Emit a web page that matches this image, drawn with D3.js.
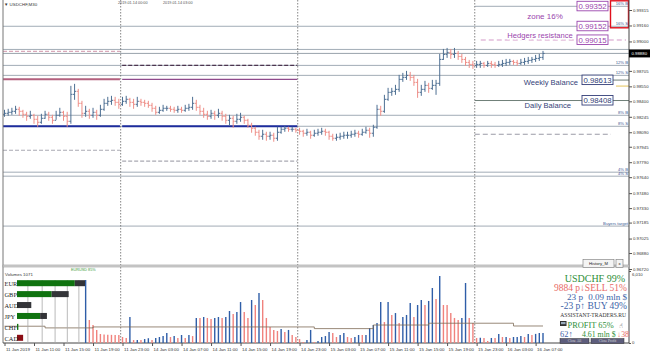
<!DOCTYPE html>
<html>
<head>
<meta charset="utf-8">
<script src="https://cdn.jsdelivr.net/npm/d3@7"></script>
<style>
  body { margin: 0; background: #fff; }
  svg { display: block; }
</style>
</head>
<body>
<div class="container"></div>
<script>
// USDCHF M30, 11 Jan 2019 07:00 .. 16 Jan 2019 08:00, one value per bar
const firstOpen = 0.9827;
const closes = [
  0.9828,0.9829,0.9830,0.9832,0.9830,0.9827,0.9825,0.9826,0.9822,0.9819,
  0.9823,0.9827,0.9824,0.9821,0.9826,0.9829,0.9825,0.9820,0.9847,0.9850,
  0.9838,0.9828,0.9830,0.9826,0.9829,0.9826,0.9832,0.9838,0.9840,0.9841,
  0.9839,0.9837,0.9840,0.9842,0.9839,0.9837,0.9840,0.9839,0.9838,0.9836,
  0.9833,0.9829,0.9831,0.9833,0.9833,0.9832,0.9831,0.9832,0.9831,0.9833,
  0.9834,0.9838,0.9834,0.9830,0.9827,0.9825,0.9828,0.9826,0.9828,0.9825,
  0.9821,0.9823,0.9820,0.9822,0.9824,0.9821,0.9816,0.9813,0.9809,0.9805,
  0.9807,0.9805,0.9806,0.9803,0.9809,0.9812,0.9813,0.9812,0.9812,0.9811,
  0.9810,0.9808,0.9809,0.9806,0.9808,0.9809,0.9810,0.9809,0.9805,0.9803,
  0.9804,0.9805,0.9806,0.9806,0.9807,0.9808,0.9807,0.9809,0.9811,0.9808,
  0.9814,0.9832,0.9830,0.9842,0.9849,0.9850,0.9852,0.9862,0.9864,0.9866,
  0.9864,0.9859,0.9849,0.9852,0.9856,0.9853,0.9856,0.9858,0.9882,0.9887,
  0.9889,0.9887,0.9888,0.9885,0.9882,0.9879,0.9877,0.9876,0.9877,0.9878,
  0.9876,0.9878,0.9877,0.9876,0.9877,0.9878,0.9879,0.9880,0.9879,0.9878,
  0.9879,0.9880,0.9881,0.9882,0.9883,0.9884,0.9888
];
const highs = [
  0.9831,0.9832,0.9833,0.9835,0.9834,0.9831,0.9829,0.9830,0.9827,0.9825,
  0.9827,0.9830,0.9829,0.9826,0.9830,0.9833,0.9830,0.9829,0.9855,0.9857,
  0.9852,0.9840,0.9835,0.9832,0.9833,0.9831,0.9836,0.9842,0.9844,0.9845,
  0.9844,0.9842,0.9844,0.9845,0.9843,0.9842,0.9844,0.9842,0.9841,0.9840,
  0.9838,0.9835,0.9834,0.9836,0.9835,0.9835,0.9834,0.9835,0.9834,0.9836,
  0.9837,0.9844,0.9841,0.9836,0.9833,0.9830,0.9831,0.9830,0.9832,0.9830,
  0.9827,0.9826,0.9825,0.9827,0.9828,0.9825,0.9822,0.9818,0.9814,0.9811,
  0.9811,0.9809,0.9809,0.9808,0.9814,0.9814,0.9815,0.9814,0.9814,0.9813,
  0.9813,0.9811,0.9812,0.9810,0.9811,0.9812,0.9813,0.9812,0.9810,0.9807,
  0.9807,0.9808,0.9809,0.9809,0.9810,0.9811,0.9810,0.9812,0.9814,0.9813,
  0.9816,0.9836,0.9835,0.9846,0.9853,0.9853,0.9856,0.9866,0.9868,0.9870,
  0.9869,0.9866,0.9862,0.9856,0.9860,0.9858,0.9861,0.9861,0.9887,0.9892,
  0.9893,0.9892,0.9893,0.9890,0.9887,0.9884,0.9881,0.9880,0.9880,0.9880,
  0.9879,0.9880,0.9880,0.9879,0.9880,0.9881,0.9882,0.9882,0.9881,0.9881,
  0.9882,0.9883,0.9884,0.9884,0.9886,0.9887,0.9890
];
const lows = [
  0.9825,0.9826,0.9827,0.9828,0.9826,0.9824,0.9821,0.9823,0.9818,0.9815,
  0.9818,0.9823,0.9821,0.9818,0.9822,0.9825,0.9821,0.9815,0.9818,0.9842,
  0.9835,0.9824,0.9825,0.9823,0.9824,0.9822,0.9825,0.9831,0.9836,0.9837,
  0.9836,0.9833,0.9836,0.9838,0.9835,0.9833,0.9835,0.9836,0.9835,0.9834,
  0.9830,0.9827,0.9828,0.9830,0.9831,0.9830,0.9829,0.9829,0.9829,0.9830,
  0.9831,0.9832,0.9831,0.9827,0.9824,0.9822,0.9823,0.9822,0.9824,0.9821,
  0.9818,0.9816,0.9814,0.9818,0.9820,0.9818,0.9814,0.9809,0.9806,0.9802,
  0.9802,0.9801,0.9802,0.9800,0.9801,0.9808,0.9810,0.9810,0.9810,0.9809,
  0.9807,0.9805,0.9806,0.9803,0.9805,0.9806,0.9807,0.9806,0.9802,0.9801,
  0.9801,0.9802,0.9803,0.9803,0.9804,0.9805,0.9804,0.9806,0.9808,0.9804,
  0.9805,0.9813,0.9826,0.9829,0.9841,0.9846,0.9847,0.9850,0.9860,0.9862,
  0.9861,0.9856,0.9844,0.9846,0.9850,0.9849,0.9852,0.9847,0.9856,0.9882,
  0.9884,0.9883,0.9884,0.9882,0.9879,0.9876,0.9874,0.9873,0.9874,0.9874,
  0.9874,0.9875,0.9874,0.9874,0.9875,0.9875,0.9876,0.9877,0.9877,0.9876,
  0.9877,0.9877,0.9878,0.9879,0.9880,0.9881,0.9882
];
// tick volumes, first visible bar is bar 22
const volStart = 22;
const volumes = [
  5260,1920,1500,1090,750,700,690,680,670,660,
  500,420,2170,250,260,240,330,400,250,420,
  500,580,830,500,580,420,670,420,670,580,
  2090,2080,2170,2090,2000,2090,2170,2090,2170,2670,
  2420,2590,3420,2590,2090,3590,3170,4180,3590,2090,
  1340,1090,1000,1170,920,1090,670,500,330,90,
  250,1090,80,170,500,580,920,835,500,670,
  835,500,420,500,670,660,670,1250,1500,1670,
  3420,1750,3420,2340,2500,1670,2170,2340,3340,2170,
  3170,3590,3170,3510,4590,3670,5590,3170,3170,2500,
  2090,1920,2090,5010,2090,1670,420,430,410,170,
  420,410,750,500,510,420,500,510,580,500,
  750,670,760,835,840
];
const volMA = [[0,1400],[11,1260],[24,1340],[84,1200],[100,1500],[115,1650],[138,1420],[146,1420]];

const priceTicks = [0.99315,0.99160,0.99000,0.98705,0.98550,0.98400,0.98245,0.98090,0.97945,
                    0.97790,0.97640,0.97480,0.97330,0.97185,0.97025,0.96880,0.96720];
const timeLabels = ["11 Jan 2019","11 Jan 11:00","11 Jan 15:00","11 Jan 19:00","11 Jan 23:00",
  "14 Jan 03:00","14 Jan 07:00","14 Jan 11:00","14 Jan 15:00","14 Jan 19:00","14 Jan 23:00",
  "15 Jan 03:00","15 Jan 07:00","15 Jan 11:00","15 Jan 15:00","15 Jan 19:00","15 Jan 23:00",
  "16 Jan 03:00","16 Jan 07:00"];
const daySeparators = [31.5, 79.5, 127.5];

// levels across the whole chart
const levelPrices = [0.99152, 0.9892, 0.9876, 0.9866, 0.9826, 0.9815, 0.9769, 0.9765, 0.9715];
const levelTags = ["16% S", "", "12% B", "12% S", "8% B", "8% S", "4% B", "4% S", "Buyers target"];
// daily levels of 11 Jan (0) and 14 Jan (1)
const dayRanges = [[-0.4, 31.3], [31.9, 79.4]];
const dayLevels = [
  [0, 0.9890, "res0"], [0, 0.9862, "piv0"], [0, 0.9815, "sup"], [0, 0.9791, "low"],
  [1, 0.9876, "res1"], [1, 0.9862, "piv1"], [1, 0.9815, "sup"], [1, 0.9780, "low"]
];
// current day annotations
const zoneTop = 0.99352, zoneBottom = 0.99152, hedgers = 0.99015;
const weeklyBalance = 0.98613, dailyBalance = 0.98408, dayDashed = 0.9807;

const currencies = ["EUR","GBP","AUD","JPY","CHF","CAD"];
const strengthUp = [85, 51, 0, 34, 2, 0];
const strengthDown = [15, 25, 21, 10, 0, 0];
const strengthNeg = [0, 0, 0, 0, 0, 9];
const strengthGrid = [16, 37, 56, 74, 91];

const W = 650, H = 356;
const plotL = 3, plotR = 629, mainB = 265, volT = 267, volB = 343;
const upColor = "#4d6f93", downColor = "#ee8f88";

const svg = d3.select(".container")
              .append("svg")
              .attr("width", W)
              .attr("height", H)
              .style("font-family", "'Liberation Sans', Arial, sans-serif");
svg.append("rect").attr("width", W).attr("height", H).attr("fill", "#fff");

const x = d3.scaleLinear().domain([0, 146]).range([4.5, 543]);
const y = d3.scaleLinear().domain([0.96720, 0.99315]).range([269, 10]);
const yv = d3.scaleLinear().domain([0, 6010]).range([volB, 271]);

svg.append("clipPath").attr("id", "mainClip")
   .append("rect").attr("x", plotL).attr("y", 0).attr("width", plotR - plotL).attr("height", mainB);
const main = svg.append("g").attr("clip-path", "url(#mainClip)");

function halo(text) {
    text.select(function() { return this.parentNode.insertBefore(this.cloneNode(true), this); })
        .attr("fill", "none")
        .attr("stroke", "white")
        .attr("stroke-width", 3)
        .attr("stroke-linejoin", "round");
}

// full width levels
levelPrices.forEach((p, k) => {
    main.append("line")
        .attr("x1", plotL).attr("x2", plotR)
        .attr("y1", y(p)).attr("y2", y(p))
        .attr("stroke", "#97a3ae").attr("stroke-width", 0.9);
    if (levelTags[k]) {
        main.append("text")
            .attr("x", plotR - 1).attr("y", y(p) - 1.2)
            .attr("text-anchor", "end").attr("font-size", 4.2)
            .attr("fill", "#3c5a96").text(levelTags[k]);
    }
});

// daily levels for finished days
const dayStyle = {
    res0: {c: "#d9a9b9", w: 1.2, dash: "4,2"},
    res1: {c: "#4d3650", w: 1.2, dash: "4,2"},
    piv0: {c: "#b3607e", w: 2, dash: null},
    piv1: {c: "#8f4a8c", w: 1.1, dash: null},
    sup:  {c: "#1d2c9c", w: 2, dash: null},
    low:  {c: "#a9a9b2", w: 1.2, dash: "4,2"}
};
main.selectAll(".daylevel")
    .data(dayLevels)
    .join("line")
    .attr("class", "daylevel")
    .attr("x1", d => x(dayRanges[d[0]][0]))
    .attr("x2", d => x(dayRanges[d[0]][1]))
    .attr("y1", d => y(d[1])).attr("y2", d => y(d[1]))
    .attr("stroke", d => dayStyle[d[2]].c)
    .attr("stroke-width", d => dayStyle[d[2]].w)
    .attr("stroke-dasharray", d => dayStyle[d[2]].dash);

// current day lines
const curX = x(daySeparators[2]);
main.append("line").attr("x1", curX).attr("x2", plotR).attr("y1", y(zoneTop)).attr("y2", y(zoneTop))
    .attr("stroke", "#97a3ae").attr("stroke-width", 0.9);
main.append("text").attr("x", plotR - 1).attr("y", y(zoneTop) - 1.2).attr("text-anchor", "end")
    .attr("font-size", 4.2).attr("fill", "#3c5a96").text("16% B");
main.append("line").attr("x1", curX + 6).attr("x2", plotR - 3).attr("y1", y(hedgers)).attr("y2", y(hedgers))
    .attr("stroke", "#d49ac8").attr("stroke-width", 1.1).attr("stroke-dasharray", "5,3");
main.append("line").attr("x1", curX).attr("x2", plotR).attr("y1", y(dailyBalance)).attr("y2", y(dailyBalance))
    .attr("stroke", "#6f7f78").attr("stroke-width", 1);
main.append("line").attr("x1", curX).attr("x2", plotR - 18).attr("y1", y(dayDashed)).attr("y2", y(dayDashed))
    .attr("stroke", "#9a9aa6").attr("stroke-width", 1.1).attr("stroke-dasharray", "5,3");
main.append("line").attr("x1", 612).attr("x2", plotR).attr("y1", y(weeklyBalance)).attr("y2", y(weeklyBalance))
    .attr("stroke", "#6f7f78").attr("stroke-width", 1);
main.append("line").attr("x1", 616).attr("x2", plotR).attr("y1", y(weeklyBalance) + 6).attr("y2", y(weeklyBalance) + 6)
    .attr("stroke", "#e3c35a").attr("stroke-width", 1);

// day separators
svg.selectAll(".sep")
   .data(daySeparators)
   .join("line")
   .attr("class", "sep")
   .attr("x1", d => x(d)).attr("x2", d => x(d))
   .attr("y1", 0).attr("y2", volB)
   .attr("stroke", "#666").attr("stroke-width", 0.8)
   .attr("stroke-dasharray", "1.5,1.5");

// bid line
const lastClose = closes[closes.length - 1];
main.append("line").attr("x1", plotL).attr("x2", plotR).attr("y1", y(lastClose)).attr("y2", y(lastClose))
    .attr("stroke", "#8d98a3").attr("stroke-width", 0.9);

// OHLC bars
const bars = closes.map((c, i) => ({i: i, o: i ? closes[i - 1] : firstOpen, h: highs[i], l: lows[i], c: c}));
const bar = main.selectAll(".bar")
                .data(bars)
                .join("g")
                .attr("class", "bar")
                .attr("stroke", d => d.c >= d.o ? upColor : downColor)
                .attr("stroke-width", 1);
bar.append("line")
   .attr("x1", d => x(d.i)).attr("x2", d => x(d.i))
   .attr("y1", d => y(d.h) - 0.5).attr("y2", d => y(d.l) + 0.5);
bar.append("line")
   .attr("x1", d => x(d.i) - 1.6).attr("x2", d => x(d.i))
   .attr("y1", d => y(d.o)).attr("y2", d => y(d.o));
bar.append("line")
   .attr("x1", d => x(d.i)).attr("x2", d => x(d.i) + 1.6)
   .attr("y1", d => y(d.c)).attr("y2", d => y(d.c));

// annotation texts and value boxes
const purple = "#9a45ad", navy = "#343f78";
main.append("text").attr("x", 545).attr("y", 19).attr("text-anchor", "middle")
    .attr("font-size", 8).attr("fill", purple).text("zone 16%");
main.append("text").attr("x", 540).attr("y", y(hedgers) - 1.5).attr("text-anchor", "middle")
    .attr("font-size", 7.6).attr("fill", purple).text("Hedgers resistance").call(halo);
main.append("text").attr("x", 578).attr("y", y(weeklyBalance) + 4.5).attr("text-anchor", "end")
    .attr("font-size", 7.6).attr("fill", navy).text("Weekly Balance");
main.append("text").attr("x", 571).attr("y", y(dailyBalance) + 7.5).attr("text-anchor", "end")
    .attr("font-size", 7.6).attr("fill", navy).text("Daily Balance");

const boxes = [
  {p: zoneTop, x0: 577, c: purple}, {p: zoneBottom, x0: 577, c: purple}, {p: hedgers, x0: 577, c: purple},
  {p: weeklyBalance, x0: 582, c: navy}, {p: dailyBalance, x0: 582, c: navy}
];
const box = main.selectAll(".vbox").data(boxes).join("g").attr("class", "vbox");
box.append("rect")
   .attr("x", d => d.x0).attr("y", d => y(d.p) - 5)
   .attr("width", 31).attr("height", 9.5)
   .attr("fill", "#fff").attr("stroke", d => d.c).attr("stroke-width", 0.9);
box.append("text")
   .attr("x", d => d.x0 + 15.5).attr("y", d => y(d.p) + 2.8)
   .attr("text-anchor", "middle").attr("font-size", 7.8)
   .attr("fill", d => d.c).text(d => d3.format(".5f")(d.p));

// red zone frame
main.append("rect").attr("x", 610.5).attr("y", 0.8).attr("width", 18).attr("height", 27)
    .attr("fill", "none").attr("stroke", "#e0101c").attr("stroke-width", 1.4);

// header texts
svg.append("text").attr("x", 4).attr("y", 6).attr("font-size", 4.4).attr("fill", "#333").text("▼ USDCHF,M30");
svg.append("text").attr("x", 118).attr("y", 4.2).attr("font-size", 3.8).attr("fill", "#555").text("2019.01.14 00:00");
svg.append("text").attr("x", 163).attr("y", 4.2).attr("font-size", 3.8).attr("fill", "#555").text("2019.01.14 03:00");

// frame
svg.append("line").attr("x1", plotL).attr("x2", plotL).attr("y1", 0).attr("y2", volB).attr("stroke", "#777");
svg.append("line").attr("x1", plotR).attr("x2", plotR).attr("y1", 0).attr("y2", volB).attr("stroke", "#444");
svg.append("line").attr("x1", plotL).attr("x2", plotR).attr("y1", volB).attr("y2", volB).attr("stroke", "#444");
svg.append("rect").attr("x", plotL).attr("y", mainB).attr("width", plotR - plotL).attr("height", volT - mainB)
   .attr("fill", "#d4d4d4").attr("stroke", "#999").attr("stroke-width", 0.6);

// price axis
const yAxis = d3.axisRight(y).tickValues(priceTicks).tickSize(3).tickFormat(d3.format(".5f"));
const drawY = svg.append("g").attr("transform", `translate(${plotR},0)`).call(yAxis);
drawY.select(".domain").remove();
drawY.selectAll("text").attr("font-size", 4.3).attr("x", 4).attr("fill", "#333")
     .style("font-family", "'Liberation Sans', Arial, sans-serif");
drawY.selectAll("line").attr("stroke", "#555");

// current price marker
svg.append("rect").attr("x", plotR).attr("y", y(lastClose) - 4).attr("width", 21).attr("height", 8).attr("fill", "#000");
svg.append("text").attr("x", plotR + 2.5).attr("y", y(lastClose) + 1.6).attr("font-size", 4.3)
   .attr("fill", "#fff").text(d3.format(".5f")(lastClose));

// volume panel
const vol = svg.append("g");
const volBars = volumes.map((v, k) => ({i: volStart + k, v: v, up: k === 0 || v > volumes[k - 1]}));
vol.selectAll(".vbar")
   .data(volBars)
   .join("line")
   .attr("class", "vbar")
   .attr("x1", d => x(d.i)).attr("x2", d => x(d.i))
   .attr("y1", yv(0)).attr("y2", d => yv(d.v))
   .attr("stroke", d => d.up ? "#2f5ea8" : "#f0827d")
   .attr("stroke-width", 1.4);
vol.append("path")
   .datum(volMA)
   .attr("fill", "none")
   .attr("stroke", "#7d6b55")
   .attr("stroke-width", 0.8)
   .attr("d", d3.line().x(d => x(d[0])).y(d => yv(d[1])).curve(d3.curveStepAfter));

const vAxis = d3.axisRight(yv).tickValues([0, 6010]).tickSize(2);
const drawV = svg.append("g").attr("transform", `translate(${plotR},0)`).call(vAxis);
drawV.select(".domain").remove();
drawV.selectAll("text").attr("font-size", 4.3).attr("x", 3).attr("fill", "#333")
     .style("font-family", "'Liberation Sans', Arial, sans-serif")
     .attr("dy", d => d ? "1.1em" : "0");
drawV.selectAll("line").attr("stroke", "#555");

vol.append("text").attr("x", 5).attr("y", 276).attr("font-size", 4.4).attr("fill", "#333").text("Volumes 1071");
vol.append("text").attr("x", 71).attr("y", 270.5).attr("font-size", 3.8).attr("fill", "#3a9a3a").text("EURUSD 85%");

// currency strength widget
const sx = d3.scaleLinear().domain([0, 100]).range([17, 85]);
const sy = d3.scaleBand().domain(currencies).range([278, 343]).paddingInner(0.45).paddingOuter(0.2);
vol.selectAll(".sgrid")
   .data(strengthGrid)
   .join("line")
   .attr("class", "sgrid")
   .attr("x1", d => sx(d)).attr("x2", d => sx(d))
   .attr("y1", 280).attr("y2", volB)
   .attr("stroke", "#a8a8a8").attr("stroke-width", 0.8);
const srow = vol.selectAll(".srow").data(currencies).join("g").attr("class", "srow");
srow.append("rect")
    .attr("x", sx(0)).attr("y", d => sy(d))
    .attr("width", (d, k) => sx(strengthUp[k]) - sx(0)).attr("height", sy.bandwidth())
    .attr("fill", "#0f730f");
srow.append("rect")
    .attr("x", (d, k) => sx(strengthUp[k])).attr("y", d => sy(d))
    .attr("width", (d, k) => sx(strengthDown[k]) - sx(0)).attr("height", sy.bandwidth())
    .attr("fill", "#333438");
srow.append("rect")
    .attr("x", sx(0)).attr("y", d => sy(d))
    .attr("width", (d, k) => sx(strengthNeg[k]) - sx(0)).attr("height", sy.bandwidth())
    .attr("fill", "#8b0d14");
srow.append("text")
    .attr("x", 4.5).attr("y", d => sy(d) + sy.bandwidth() - 0.3)
    .attr("font-size", 6.4).attr("fill", "#222")
    .style("font-family", "'Liberation Serif', 'Times New Roman', serif")
    .text(d => d);

// History button
svg.append("rect").attr("x", 583).attr("y", 259.5).attr("width", 31).attr("height", 8)
   .attr("fill", "#f4f4f4").attr("stroke", "#777").attr("stroke-width", 0.6);
svg.append("text").attr("x", 598.5).attr("y", 265).attr("text-anchor", "middle").attr("font-size", 4.2)
   .attr("fill", "#222").text("History_M");
svg.append("rect").attr("x", 616).attr("y", 259.5).attr("width", 7).attr("height", 8)
   .attr("fill", "#f4f4f4").attr("stroke", "#777").attr("stroke-width", 0.6);
svg.append("text").attr("x", 619.5).attr("y", 265).attr("text-anchor", "middle").attr("font-size", 4.2)
   .attr("fill", "#222").text("x");

// trade info panel
const serif = "'Liberation Serif', 'Times New Roman', serif";
const info = svg.append("g").style("font-family", serif);
const green = "#2f8f3a", red = "#e86a66", blue = "#3d63a8";
info.append("text").attr("x", 625).attr("y", 282).attr("text-anchor", "end").attr("font-size", 10)
    .attr("fill", green).text("USDCHF 99%");
info.append("text").attr("x", 627).attr("y", 291).attr("text-anchor", "end").attr("font-size", 9.5)
    .attr("fill", red).text("9884 p↓SELL 51%");
info.append("text").attr("x", 567).attr("y", 300).attr("font-size", 9.2).attr("fill", blue).text("23 p");
info.append("text").attr("x", 627).attr("y", 300).attr("text-anchor", "end").attr("font-size", 9)
    .attr("fill", blue).text("0.09 mln $");
info.append("text").attr("x", 627).attr("y", 309).attr("text-anchor", "end").attr("font-size", 9.5)
    .attr("fill", blue).text("-23 p↑ BUY 49%");
info.append("text").attr("x", 626).attr("y", 317).attr("text-anchor", "end").attr("font-size", 5.6)
    .attr("fill", "#333").text("ASSISTANT-TRADERS.RU");
info.append("rect").attr("x", 560).attr("y", 321).attr("width", 6.5).attr("height", 5).attr("fill", "#333");
info.append("rect").attr("x", 561).attr("y", 322).attr("width", 4.5).attr("height", 2.2).attr("fill", "#9ab");
info.append("text").attr("x", 567.5).attr("y", 327.5).attr("font-size", 8.4).attr("fill", green).text("PROFIT 65%");
info.append("text").attr("x", 619).attr("y", 327.5).attr("font-size", 6.5).attr("fill", "#333")
    .style("font-family", "'DejaVu Sans', sans-serif").text("☝");
info.append("text").attr("x", 560).attr("y", 336.8).attr("font-size", 8.4).attr("fill", blue).text("62↑");
info.append("text").attr("x", 582).attr("y", 336.8).attr("font-size", 7.8).attr("fill", green).text("4.61 mln $");
info.append("text").attr("x", 629).attr("y", 336.8).attr("text-anchor", "end").attr("font-size", 7.8)
    .attr("fill", red).text("↓38");
const btnX = [[560, 29], [591, 33]];
const btnText = ["Close All", "Close Profit"];
btnX.forEach((b, k) => {
    info.append("rect").attr("x", b[0]).attr("y", 338.5).attr("width", b[1]).attr("height", 5)
        .attr("fill", "#5d5d7c").attr("stroke", "#333").attr("stroke-width", 0.5);
    info.append("text").attr("x", b[0] + b[1] / 2).attr("y", 342.4).attr("text-anchor", "middle")
        .attr("font-size", 3.6).attr("fill", "#ddd").text(btnText[k]);
});

// time axis
const timeBars = timeLabels.map((t, k) => k * 8);
const xAxis = d3.axisBottom(x).tickValues(timeBars).tickSize(3).tickFormat((d, k) => timeLabels[k]);
const drawX = svg.append("g").attr("transform", `translate(0,${volB})`).call(xAxis);
drawX.select(".domain").remove();
drawX.selectAll("text").attr("font-size", 4.4).attr("text-anchor", "start").attr("x", 1).attr("y", 5)
     .attr("fill", "#333").style("font-family", "'Liberation Sans', Arial, sans-serif");
drawX.selectAll("line").attr("stroke", "#555");
</script>
</body>
</html>
